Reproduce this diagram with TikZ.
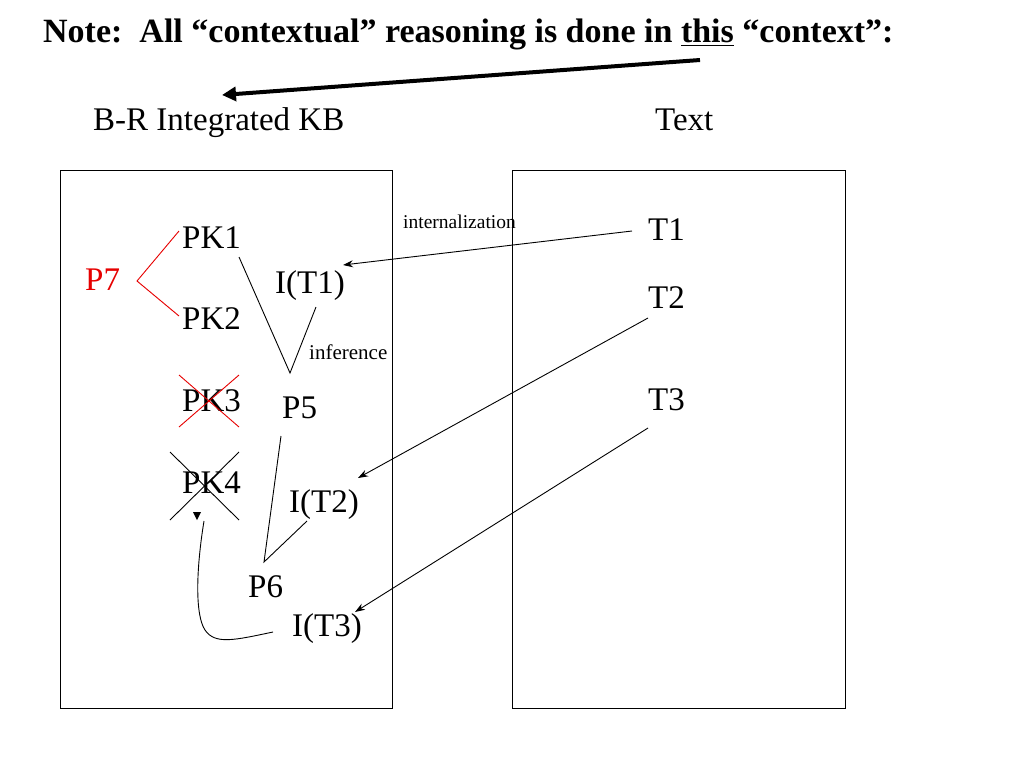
\documentclass[tikz,border=0pt]{standalone}
\usepackage{fontspec}
\setmainfont{Liberation Serif}
\usetikzlibrary{arrows.meta}
\definecolor{pred}{RGB}{230,0,0}
\begin{document}
\begin{tikzpicture}[x=1pt,y=-1pt,
  lab/.style={anchor=base west,inner sep=0pt,font=\fontsize{33}{36}\selectfont},
  small/.style={anchor=base west,inner sep=0pt,font=\fontsize{19.5}{22}\selectfont},
  thin line/.style={draw=black,line width=0.9pt},
  red line/.style={draw=pred,line width=0.9pt},
  conn/.style={draw=black,line width=0.9pt,-{Stealth[length=10pt,width=7pt]}},
  boxframe/.style={draw=black,line width=0.9pt}]
\useasboundingbox (0,0) rectangle (1024,768);
% title
\node[anchor=base west,inner sep=0pt,font=\fontsize{34}{38}\selectfont\bfseries] (title) at (43,43)
  {Note:\ \ All “contextual” reasoning is done in \underline{this} “context”:};
\coordinate (thisend) at (700,60);
\coordinate (kbhead) at (222,95);
\draw[line width=4pt,-{Triangle[length=14pt,width=14pt]}] (thisend) -- (kbhead);
% headings
\node[lab] (kb) at (93,130) {B-R Integrated KB};
\node[lab] (text) at (655,130) {Text};
% boxes
\node[boxframe,minimum width=332pt,minimum height=538pt,anchor=north west,inner sep=0pt] (lbox) at (60,170) {};
\node[boxframe,minimum width=333pt,minimum height=538pt,anchor=north west,inner sep=0pt] (rbox) at (512,170) {};
% left labels
\node[lab,text=pred] (P7) at (85,290) {P7};
\node[lab] (PK1) at (182,248) {PK1};
\node[lab] (PK2) at (182,329) {PK2};
\node[lab] (PK3) at (182,411) {PK3};
\node[lab] (PK4) at (182,493) {PK4};
\node[lab] (IT1) at (275,293) {I(T1)};
\node[lab] (P5) at (282,418) {P5};
\node[lab] (IT2) at (289,512) {I(T2)};
\node[lab] (P6) at (248,597) {P6};
\node[lab] (IT3) at (292,636) {I(T3)};
% right labels
\node[lab] (T1) at (648,240) {T1};
\node[lab] (T2) at (648,308) {T2};
\node[lab] (T3) at (648,410) {T3};
% small labels
\node[small] (intern) at (403,228) {internalization};
\node[small,font=\fontsize{21}{24}\selectfont] (infer) at (309,359) {inference};
% P7 links
\coordinate (p7apex) at (137,281);
\coordinate (pk1l) at (179,231);
\coordinate (pk2l) at (179,316);
\draw[red line] (pk1l) -- (p7apex) -- (pk2l);
% PK3 red cross
\draw[red line] (179,375) -- (239,427) (179,427) -- (239,375);
% PK4 black cross
\draw[thin line] (170,452) -- (239,520) (170,520) -- (239,452);
% inference V
\coordinate (pk1r) at (239,257);
\coordinate (p5top) at (290,373);
\coordinate (it1b) at (316,307);
\draw[thin line] (pk1r) -- (p5top) -- (it1b);
% P5/IT2 -> P6
\coordinate (p5b) at (281,436);
\coordinate (p6top) at (264,562);
\coordinate (it2b) at (307,521);
\draw[thin line] (p5b) -- (p6top) -- (it2b);
% internalization arrows
\coordinate (t1w) at (632,231);
\coordinate (it1r) at (343,265);
\draw[conn] (t1w) -- (it1r);
\coordinate (t2w) at (648,318);
\coordinate (it2t) at (358,478);
\draw[conn] (t2w) -- (it2t);
\coordinate (t3w) at (648,428);
\coordinate (it3t) at (355,612);
\draw[conn] (t3w) -- (it3t);
% curve from I(T3) back to PK4
\coordinate (it3l) at (273,632);
\coordinate (pk4b) at (204,521);
\draw[thin line] (it3l) .. controls (235,640) and (215,645) .. (205,630)
  .. controls (195,615) and (196,570) .. (pk4b);
\fill[black] (193,512) -- (201,512) -- (197,520) -- cycle;
\end{tikzpicture}
\end{document}
